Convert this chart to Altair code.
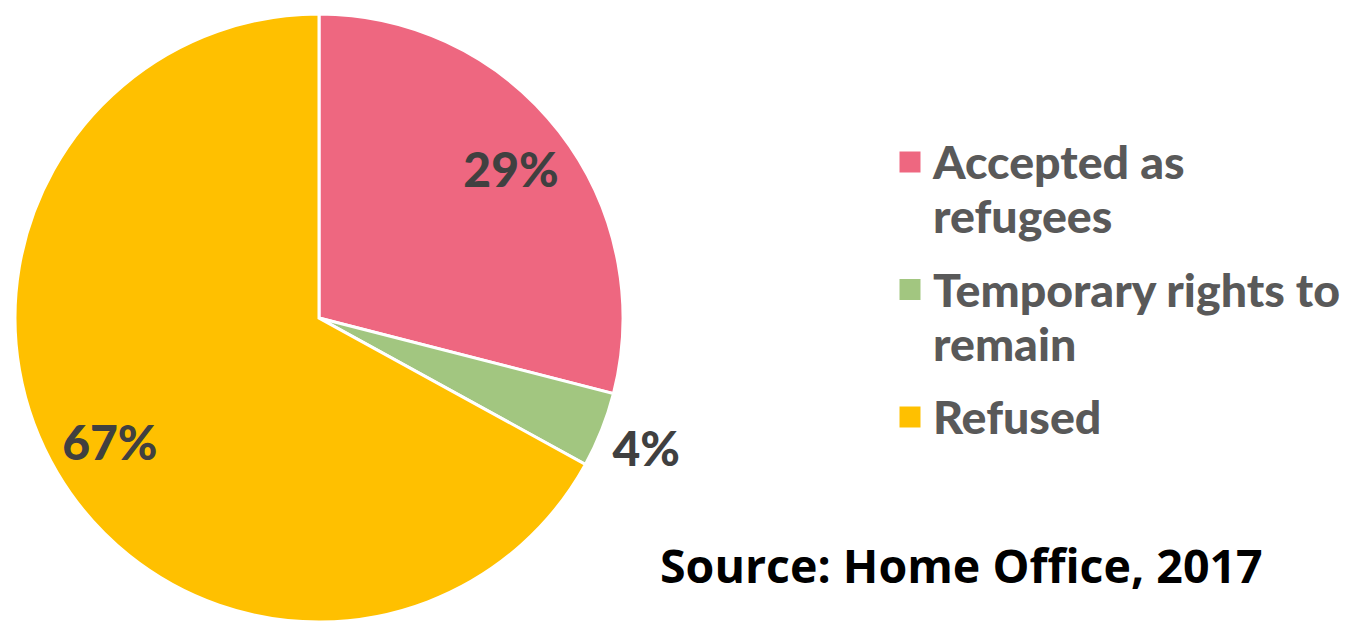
import altair as alt
import pandas as pd

categories = ["Accepted as refugees", "Temporary rights to remain", "Refused"]
shares = [29, 4, 67]
slice_labels = ["29%", "4%", "67%"]
legend_lines = ["Accepted as\nrefugees", "Temporary rights to\nremain", "Refused"]
colors = ["#EE6780", "#A2C680", "#FFC000"]
source_note = ["Source: Home Office, 2017"]

df = pd.DataFrame({
    "category": categories,
    "share": shares,
    "label": slice_labels,
    "legend": legend_lines,
    "rank": list(range(len(categories))),
})

color = alt.Color("category:N", scale=alt.Scale(domain=categories, range=colors), legend=None)
theta = alt.Theta("share:Q", stack=True)
order = alt.Order("rank:Q")
base = alt.Chart(df)

pie = base.mark_arc(radius=304, stroke="white", strokeWidth=3).encode(
    theta=theta, color=color, order=order,
    x=alt.value(311), y=alt.value(310),
)

label_style = dict(font="Lato", fontWeight=900, fontSize=48, color="#404040",
                   align="center", baseline="middle", dy=4)

labels_in = base.transform_calculate(
    txt="datum.share >= 10 ? datum.label : ''"
).mark_text(radius=243, **label_style).encode(
    theta=theta, order=order, text="txt:N",
    x=alt.value(311), y=alt.value(310),
)

labels_out = base.transform_calculate(
    txt="datum.share < 10 ? datum.label : ''"
).mark_text(radius=352, **label_style).encode(
    theta=theta, order=order, text="txt:N",
    x=alt.value(311), y=alt.value(310),
)

leg_y = alt.Y("category:N", sort=categories,
              scale=alt.Scale(type="point", range=[154, 409], padding=0), axis=None)

squares = base.mark_square(size=441, opacity=1).encode(
    y=leg_y, color=color, x=alt.value(902),
)

legend_text = base.mark_text(
    align="left", baseline="alphabetic", dy=17, lineBreak="\n",
    font="Lato", fontWeight=900, fontSize=46.5, lineHeight=54, color="#595959",
).encode(text="legend:N", y=leg_y, x=alt.value(925))

source = alt.Chart(pd.DataFrame({"note": source_note})).mark_text(
    align="left", baseline="alphabetic", font="Open Sans", fontWeight="bold",
    fontSize=46.5, color="#000000",
).encode(text="note:N", x=alt.value(652), y=alt.value(575))

chart = alt.layer(pie, labels_in, labels_out, squares, legend_text, source).properties(
    width=1335, height=613, autosize=alt.AutoSizeParams(type="none"), padding=0,
).configure_view(strokeWidth=0)

chart.save("out.html", embed_options={"renderer": "svg", "actions": False})
